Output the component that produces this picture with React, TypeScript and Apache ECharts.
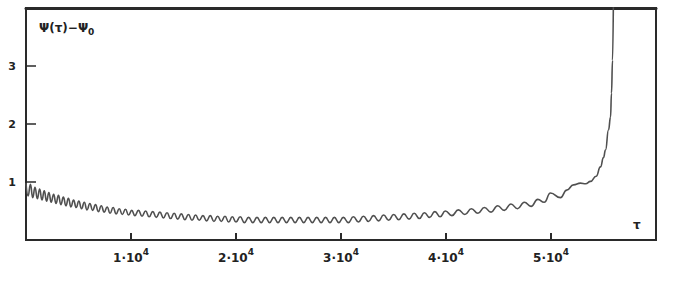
import React, { useEffect, useRef } from "react";
import * as echarts from "echarts";

// tau, psi pairs (peaks / troughs of the oscillation)
const segmentA: number[][] = [
  [0, 0.98], [200, 0.76], [420, 0.96], [640, 0.73], [860, 0.91], [1080, 0.71], [1300, 0.88],
  [1520, 0.69], [1740, 0.85], [1960, 0.67], [2180, 0.82], [2400, 0.65], [2630, 0.79], [2860, 0.63],
  [3090, 0.77], [3320, 0.61], [3560, 0.74], [3800, 0.59], [4040, 0.72], [4280, 0.57], [4530, 0.69],
  [4780, 0.56], [5030, 0.67], [5290, 0.54], [5550, 0.65], [5810, 0.52], [6080, 0.63], [6350, 0.51],
  [6620, 0.61], [6890, 0.49], [7170, 0.59], [7450, 0.48], [7730, 0.57], [8010, 0.46], [8300, 0.56],
  [8590, 0.45], [8880, 0.54], [9170, 0.44], [9470, 0.53], [9770, 0.43], [10070, 0.51],
];
const segmentB: number[][] = [
  [10370, 0.42], [10710, 0.51], [11050, 0.41], [11390, 0.5], [11730, 0.4], [12070, 0.49],
  [12410, 0.39], [12750, 0.48], [13090, 0.38], [13430, 0.47], [13770, 0.37], [14110, 0.46],
  [14450, 0.36], [14790, 0.45], [15130, 0.35], [15470, 0.44], [15810, 0.34], [16150, 0.43],
  [16500, 0.34], [16850, 0.42], [17200, 0.33], [17550, 0.42], [17900, 0.32], [18250, 0.41],
  [18600, 0.32], [18950, 0.41], [19300, 0.31], [19650, 0.4], [20000, 0.31],
];
const segmentC: number[][] = [
  [20400, 0.4], [20800, 0.3], [21200, 0.39], [21600, 0.3], [22000, 0.39], [22400, 0.3],
  [22800, 0.39], [23200, 0.3], [23600, 0.39], [24000, 0.3], [24400, 0.39], [24810, 0.3],
  [25220, 0.39], [25630, 0.3], [26040, 0.39], [26450, 0.3], [26860, 0.39], [27270, 0.3],
  [27690, 0.39], [28110, 0.3], [28530, 0.39], [28950, 0.3], [29370, 0.39], [29790, 0.3],
];
const segmentD: number[][] = [
  [30220, 0.39], [30700, 0.3], [31180, 0.4], [31660, 0.31], [32140, 0.41], [32620, 0.32],
  [33100, 0.42], [33580, 0.33], [34060, 0.43], [34540, 0.34], [35020, 0.44], [35500, 0.35],
  [35990, 0.45], [36480, 0.36], [36970, 0.46], [37460, 0.37], [37950, 0.47], [38440, 0.39],
  [38940, 0.49], [39440, 0.4], [39940, 0.5],
];
const segmentE: number[][] = [
  [40560, 0.42], [41180, 0.52], [41800, 0.44], [42420, 0.54], [43040, 0.46], [43660, 0.56],
  [44290, 0.48], [44920, 0.59], [45550, 0.51], [46180, 0.62], [46820, 0.54], [47460, 0.65],
  [48100, 0.58], [48740, 0.7], [49350, 0.65],
];
const segmentF: number[][] = [
  [49950, 0.81], [50900, 0.73], [51500, 0.86], [52140, 0.95], [52810, 0.98], [53300, 0.97],
  [53760, 1.01], [54300, 1.1], [54710, 1.26], [55000, 1.42], [55190, 1.55], [55480, 1.9],
  [55670, 2.12], [55760, 2.53], [55860, 3.1], [55950, 4.3],
];

const xTicks = [0, 10000, 20000, 30000, 40000, 50000, 60000];
const xTickLabels = ["", "1", "2", "3", "4", "5", ""];
const yTickLabels = ["", "1", "2", "3", ""];

export default function App() {
  const ref = useRef<HTMLDivElement>(null);
  useEffect(() => {
    if (!ref.current) return;
    const chart = echarts.init(ref.current, null, { renderer: "svg" });
    const data = [...segmentA, ...segmentB, ...segmentC, ...segmentD, ...segmentE, ...segmentF];
    const font = "DejaVu Sans";
    chart.setOption({
      animation: false,
      backgroundColor: "#ffffff",
      grid: {
        left: 26,
        right: 37,
        top: 8,
        bottom: 49,
        show: true,
        borderColor: "#2a2a2a",
        borderWidth: 2,
        outerBoundsMode: "none",
      },
      xAxis: [
        {
          type: "value",
          min: 0,
          max: 60000,
          interval: 10000,
          axisLine: { show: true, lineStyle: { color: "#2a2a2a", width: 2 } },
          axisTick: { show: true, inside: true, length: 7, lineStyle: { color: "#2a2a2a", width: 2 } },
          splitLine: { show: false },
          axisLabel: {
            margin: 7,
            formatter: (v: number) => {
              const i = xTicks.indexOf(v);
              const s = i >= 0 ? xTickLabels[i] : "";
              return s ? `{b|${s}·10}{s|4}` : "";
            },
            rich: {
              b: { fontFamily: font, fontWeight: "bold", fontSize: 12, color: "#222", verticalAlign: "bottom", lineHeight: 17 },
              s: { fontFamily: font, fontWeight: "bold", fontSize: 9, color: "#222", verticalAlign: "top", lineHeight: 17, padding: [0, 0, 6, 0] },
            },
          },
        },
        {
          type: "value",
          position: "top",
          min: 0,
          max: 60000,
          interval: 10000,
          axisLine: { show: true, lineStyle: { color: "#2a2a2a", width: 3 } },
          axisTick: { show: false },
          axisLabel: { show: false },
          splitLine: { show: false },
        },
      ],
      yAxis: {
        type: "value",
        min: 0,
        max: 4,
        interval: 1,
        axisLine: { show: true, lineStyle: { color: "#2a2a2a", width: 2 } },
        axisTick: { show: true, inside: true, length: 10, lineStyle: { color: "#2a2a2a", width: 1.5 } },
        splitLine: { show: false },
        axisLabel: {
          margin: 10,
          fontFamily: font,
          fontWeight: "bold",
          fontSize: 11,
          color: "#222",
          formatter: (v: number) => yTickLabels[Math.round(v)] ?? "",
        },
      },
      graphic: [
        {
          type: "text",
          left: 39,
          top: 19,
          style: {
            text: "{a|Ψ(τ)−Ψ}{s|0}",
            rich: {
              a: { fontFamily: font, fontWeight: "bold", fontSize: 12, fill: "#222", lineHeight: 18 },
              s: { fontFamily: font, fontWeight: "bold", fontSize: 9, fill: "#222", lineHeight: 18, padding: [8, 0, 0, 0] },
            },
          },
        },
        {
          type: "text",
          left: 633,
          top: 219,
          style: { text: "τ", fontFamily: font, fontWeight: "bold", fontSize: 12, fill: "#222" },
        },
      ],
      series: [
        {
          type: "line",
          xAxisIndex: 0,
          data,
          showSymbol: false,
          smooth: 0.5,
          smoothMonotone: "x",
          clip: true,
          lineStyle: { color: "#505050", width: 1.6 },
        },
      ],
    });
    return () => chart.dispose();
  }, []);
  return (
    <div
      ref={ref}
      style={{ position: "fixed", left: 0, top: 0, width: 693, height: 289, background: "#fff" }}
    />
  );
}
